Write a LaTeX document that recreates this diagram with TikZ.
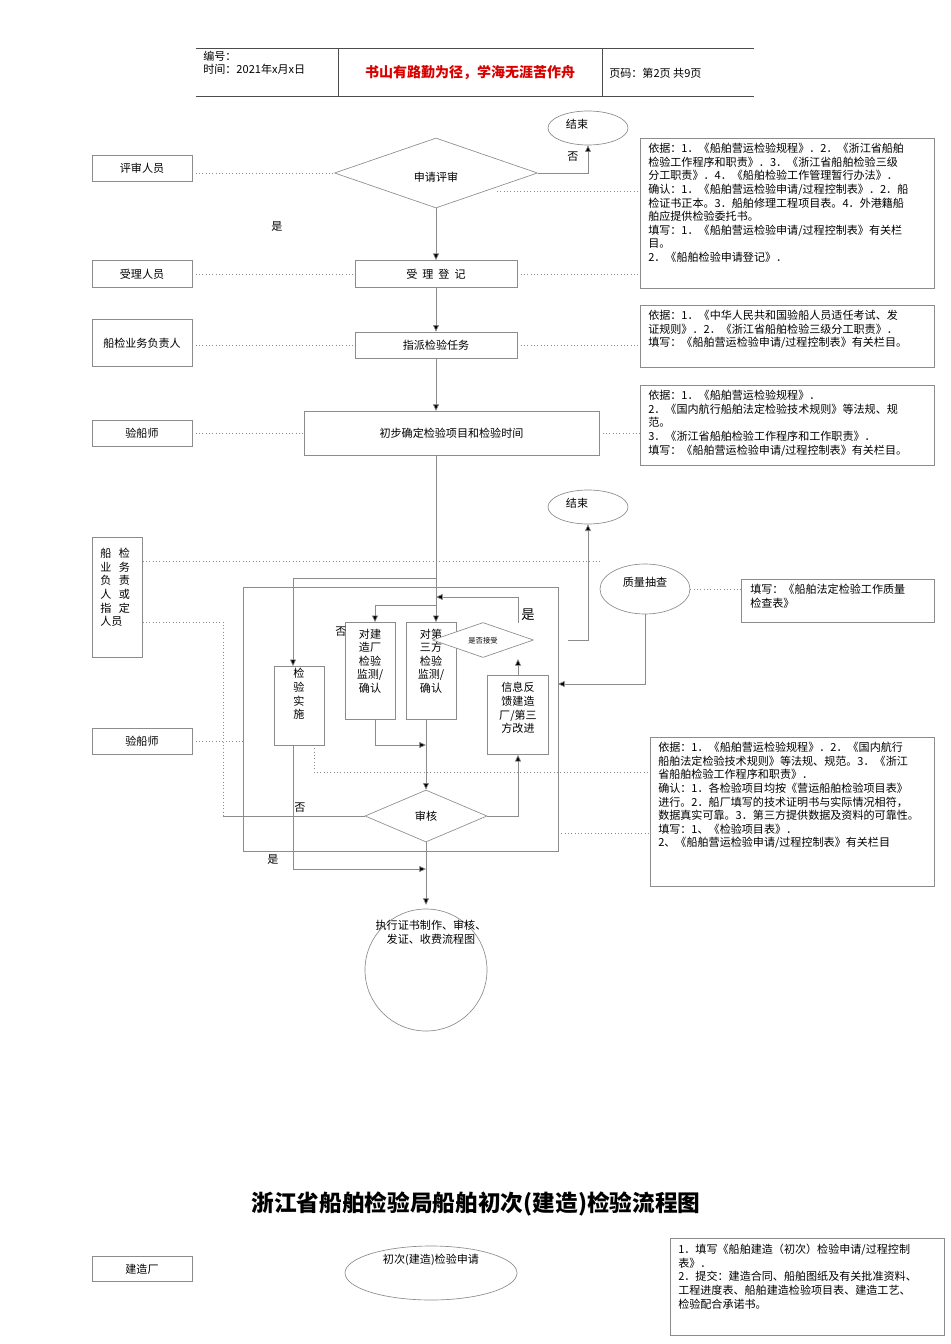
\documentclass[tikz,border=0pt]{standalone}
\usepackage{fontspec}
\setmainfont{Noto Sans CJK SC}
\usetikzlibrary{shapes.geometric,arrows.meta}
\begin{document}
\begin{tikzpicture}[x=0.75pt,y=-0.75pt,
  every node/.style={font=\fontsize{8.3}{10.2}\selectfont,inner sep=0pt},
  ln/.style={draw=black!45,line width=0.5pt},
  arr/.style={ln,-{Triangle[length=5pt,width=4.5pt,fill=black]}},
  dot/.style={draw=black!45,dotted,line width=0.5pt},
  bx/.style={draw=black!45,line width=0.5pt},
  sz/.style 2 args={minimum width=#1*0.75pt,minimum height=#2*0.75pt},
  note/.style={align=left,anchor=north west}]
\useasboundingbox (0,0) rectangle (950,1344);
% header
\draw[line width=0.6pt,black!70] (196,48)--(754,48) (196,96)--(754,96) (338,48)--(338,96) (602,48)--(602,96);
\node[anchor=west,align=left,font=\fontsize{8.3}{10}\selectfont] (h1) at (203,63) {编号：\\时间：2021年x月x日};
\node[text=red!85!black,font=\fontsize{10.5}{12}\selectfont\bfseries] (h2) at (470,73) {书山有路勤为径，学海无涯苦作舟};
\node[anchor=west] (h3) at (609,73) {页码：第2页\ 共9页};
% top part
\node[ellipse,bx,sz={80}{34}] (end1) at (588,128) {};
\node at (577,124) {结束};
\node[diamond,bx,sz={203}{70},aspect=2.9] (d1) at (436,173) {};
\node at (436,177) {申请评审};
\node[bx,sz={100}{26}] (r1) at (142,168) {评审人员};
\node (no1) at (573,157) {否};
\node (yes1) at (277,227) {是};
\draw[arr] (d1.east) -- (588,173) -- (end1.south);
\draw[dot] (r1.east|-d1.west) -- (d1.west);
\node[bx,sz={294}{150},anchor=north west] (n1) at (640,138) {};
\node[note] at (648,143) {依据：1．《船舶营运检验规程》．2．《浙江省船舶\\检验工作程序和职责》．3．《浙江省船舶检验三级\\分工职责》．4．《船舶检验工作管理暂行办法》．\\确认：1．《船舶营运检验申请/过程控制表》．2．船\\检证书正本。3．船舶修理工程项目表。4．外港籍船\\舶应提供检验委托书。\\填写：1．《船舶营运检验申请/过程控制表》有关栏\\目。\\2．《船舶检验申请登记》．};
\draw[dot] (497,191) -- (640,191);
\node[bx,sz={162}{27}] (s1) at (436,274) {受\ \ 理\ \ 登\ \ 记};
\node[bx,sz={100}{27}] (r2) at (142,274) {受理人员};
\draw[arr] (d1.south) -- (s1.north);
\draw[dot] (r2.east) -- (s1.west);
\draw[dot] (s1.east) -- (640,274);
\node[bx,sz={162}{26}] (s2) at (436,345) {指派检验任务};
\node[bx,sz={100}{47}] (r3) at (142,343) {船检业务负责人};
\draw[arr] (s1.south) -- (s2.north);
\draw[dot] (r3.east|-s2.west) -- (s2.west);
\draw[dot] (s2.east) -- (640,345);
\node[bx,sz={294}{62},anchor=north west] (n2) at (640,305) {};
\node[note] at (648,310) {依据：1．《中华人民共和国验船人员适任考试、发\\证规则》．2．《浙江省船舶检验三级分工职责》．\\填写：《船舶营运检验申请/过程控制表》有关栏目。};
\node[bx,sz={295}{44}] (s3) at (451.5,433) {初步确定检验项目和检验时间};
\node[bx,sz={100}{26}] (r4) at (142,433) {验船师};
\draw[arr] (s2.south) -- (436,411);
\draw[dot] (r4.east) -- (s3.west);
\draw[dot] (s3.east) -- (640,433);
\node[bx,sz={294}{80},anchor=north west] (n3) at (640,385) {};
\node[note] at (648,390) {依据：1．《船舶营运检验规程》．\\2．《国内航行船舶法定检验技术规则》等法规、规\\范。\\3．《浙江省船舶检验工作程序和工作职责》．\\填写：《船舶营运检验申请/过程控制表》有关栏目。};
% middle part
\node[ellipse,bx,sz={80}{34}] (end2) at (588,507) {};
\node at (577,503) {结束};
\node[bx,sz={50}{120},anchor=north west] (r5) at (92,537) {};
\node[align=left,anchor=north west,font=\fontsize{8.3}{10.2}\selectfont] at (100,548) {船\ \ \ 检\\业\ \ \ 务\\负\ \ \ 责\\人\ \ \ 或\\指\ \ \ 定\\人员};
\node[bx,sz={100}{26}] (r6) at (142,741) {验船师};
\draw[bx] (243,587) rectangle (558,851);
\coordinate (ct) at (558,684);
\node[ellipse,bx,sz={90}{50}] (qc) at (645,589) {};
\node at (645,582) {质量抽查};
\node[bx,sz={193}{43},anchor=north west] (n5) at (741,579) {};
\node[note] at (750,584) {填写：《船舶法定检验工作质量\\检查表》};
\draw[dot] (qc.east) -- (741,589);
\draw[dot] (r5.east|-0,561) -- (602,561);
\node[bx,sz={50}{79}] (b1) at (299,706) {};
\node[align=center,font=\fontsize{8.3}{10.2}\selectfont] at (299,694) {检\\验\\实\\施};
\node[bx,sz={50}{97}] (b2) at (370,671) {};
\node[align=center,font=\fontsize{8.3}{10.2}\selectfont] at (370,661) {对建\\造厂\\检验\\监测/\\确认};
\node[bx,sz={50}{97}] (b3) at (431,671) {};
\node[align=center,font=\fontsize{8.3}{10.2}\selectfont] at (431,661) {对第\\三方\\检验\\监测/\\确认};
\node[diamond,bx,fill=white,sz={101}{35},aspect=2.9] (d2) at (483,640) {};
\node[font=\fontsize{5.5}{6}\selectfont] at (483,641) {是否接受};
\node[bx,sz={61}{79}] (b4) at (518,715) {};
\node[align=center,font=\fontsize{8.3}{10.2}\selectfont] at (518,708) {信息反\\馈建造\\厂/第三\\方改进};
\node[diamond,bx,sz={122}{52},aspect=2.35] (d3) at (426,816) {};
\node at (426,816) {审核};
\node (no2) at (341,632) {否};
\node[font=\fontsize{10}{12}\selectfont] (yes2) at (528,615) {是};
\node (no3) at (300,808) {否};
\node (yes3) at (273,860) {是};
\draw[ln] (436,455) -- (436,578);
\draw[arr] (436,578) -- (293,578) -- (b1.north-|293,0);
\draw[arr] (436,578) -- (b3.north-|436,0);
\draw[arr] (436,605) -- (375,605) -- (b2.north-|375,0);
\draw[arr] (518,623) -- (518,597) -- (436,597);
\draw[arr] (b4.north) -- (518,659);
\draw[arr] (b2.south-|375,0) -- (375,745) -- (426,745);
\draw[arr] (b3.south-|426,0) -- (d3.north);
\draw[arr] (d3.east) -- (518,816) -- (b4.south);
\draw[arr] (b1.south-|293,0) -- (293,869) -- (426,869);
\draw[dot] (r5.east|-0,622) -- (223,622) -- (223,816);
\draw[ln] (223,816) -- (d3.west);
\draw[dot] (r6.east) -- (243,741);
\draw[dot] (314,745) -- (314,772) -- (650,772);
\draw[dot] (558,833) -- (650,833);
\draw[arr] (qc.south) -- (645,684) -- (ct);
\draw[arr] (568,640) -- (588,640) -- (end2.south);
\node[bx,sz={284}{149},anchor=north west] (n4) at (650,737) {};
\node[note] at (658,742) {依据：1．《船舶营运检验规程》．2．《国内航行\\船舶法定检验技术规则》等法规、规范。3．《浙江\\省船舶检验工作程序和职责》．\\确认：1．各检验项目均按《营运船舶检验项目表》\\进行。2．船厂填写的技术证明书与实际情况相符，\\数据真实可靠。3．第三方提供数据及资料的可靠性。\\填写：1、《检验项目表》．\\2、《船舶营运检验申请/过程控制表》有关栏目};
\node[circle,bx,sz={122}{122}] (c1) at (426,970) {};
\draw[arr] (d3.south) -- (426,905);
\node[align=center] at (431,932) {执行证书制作、审核、\\发证、收费流程图};
% bottom
\node[font=\fontsize{17}{20}\selectfont\bfseries] (title) at (476,1204) {浙江省船舶检验局船舶初次(建造)检验流程图};
\node[bx,sz={100}{25}] (r7) at (142,1269) {建造厂};
\node[ellipse,bx,sz={172}{54}] (e3) at (431,1273) {};
\node at (431,1260) {初次(建造)检验申请};
\node[bx,sz={274}{97},anchor=north west] (n6) at (670,1238) {};
\node[note] at (678,1244) {1．填写《船舶建造（初次）检验申请/过程控制\\表》．\\2．提交：建造合同、船舶图纸及有关批准资料、\\工程进度表、船舶建造检验项目表、建造工艺、\\检验配合承诺书。};
\end{tikzpicture}
\end{document}
